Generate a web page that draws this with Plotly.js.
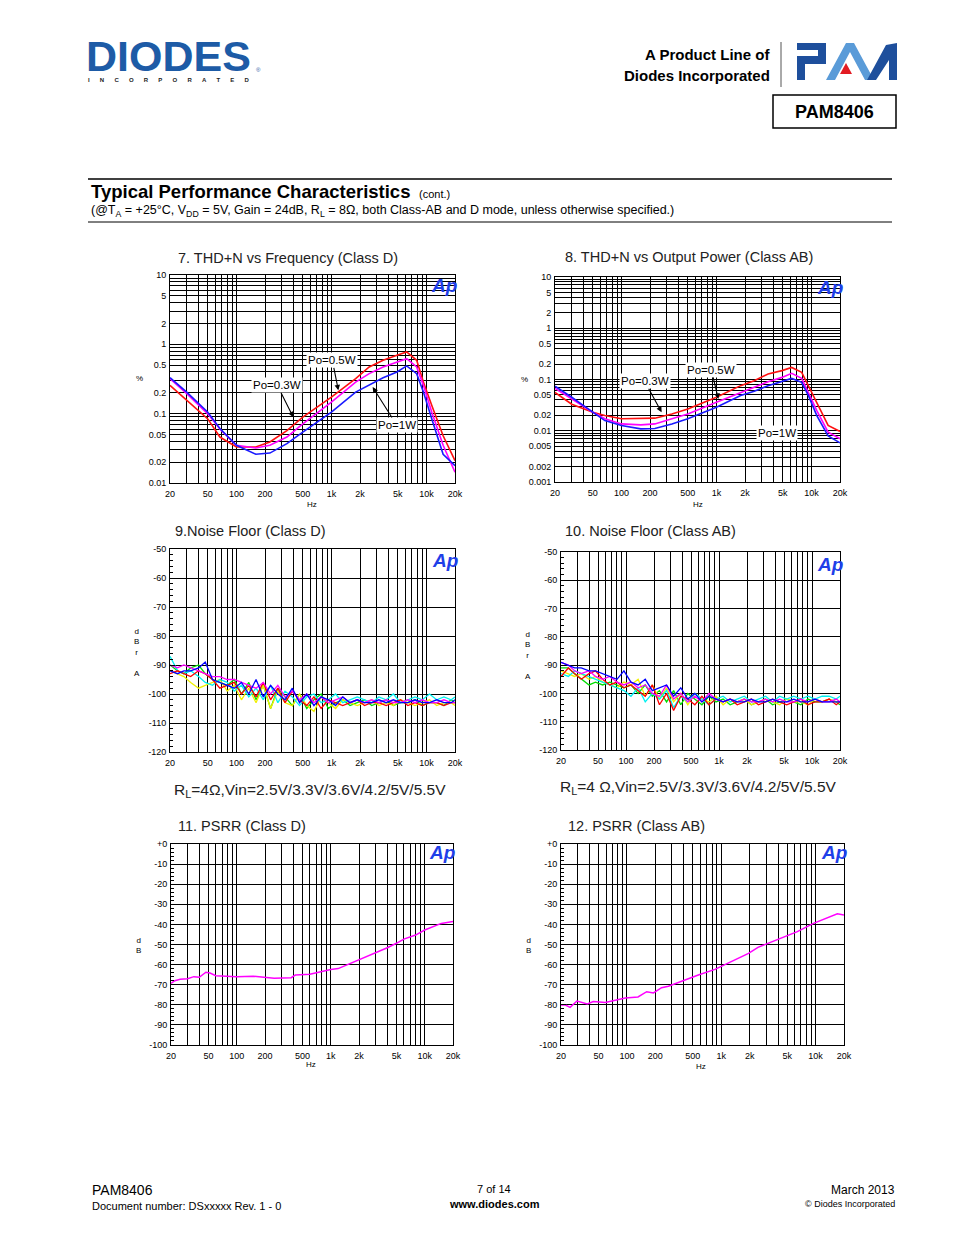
<!DOCTYPE html>
<html><head><meta charset="utf-8">
<script src="https://cdn.plot.ly/plotly-3.0.1.min.js"></script>
<style>html,body{margin:0;padding:0;background:#fff}#chart{width:954px;height:1235px}</style>
</head><body><div id="chart"></div>
<script>
// ---------- data ----------
const freqGrid = [20,30,40,50,60,70,80,90,100,200,300,400,500,600,700,800,900,1000,2000,3000,4000,5000,6000,7000,8000,9000,10000,20000];
const freqLabels = {"20":"20","50":"50","100":"100","200":"200","500":"500","1000":"1k","2000":"2k","5000":"5k","10000":"10k","20000":"20k"};
const thdGrid7 = [0.01,0.02,0.03,0.04,0.05,0.06,0.07,0.08,0.09,0.1,0.2,0.3,0.4,0.5,0.6,0.7,0.8,0.9,1,2,3,4,5,6,7,8,9,10];
const thdGrid8 = [0.001,0.002,0.003,0.004,0.005,0.006,0.007,0.008,0.009].concat(thdGrid7);
const thdLabels = {"0.001":"0.001","0.002":"0.002","0.005":"0.005","0.01":"0.01","0.02":"0.02","0.05":"0.05","0.1":"0.1","0.2":"0.2","0.5":"0.5","1":"1","2":"2","5":"5","10":"10"};

const thdFreq = [20,30,50,67,100,160,225,340,500,1000,1800,2500,3500,4900,6200,7900,9300,11400,15000,20000];
// Chart 7: THD+N vs Frequency (Class D), %
const thdD_red  = [0.256,0.155,0.084,0.046,0.033,0.033,0.039,0.057,0.089,0.173,0.320,0.471,0.589,0.695,0.777,0.589,0.286,0.131,0.048,0.021];
const thdD_mag  = [0.320,0.194,0.0995,0.060,0.035,0.032,0.035,0.046,0.071,0.147,0.286,0.378,0.471,0.557,0.622,0.471,0.256,0.105,0.035,0.0143];
const thdD_blue = [0.331,0.205,0.105,0.061,0.035,0.026,0.027,0.037,0.054,0.105,0.205,0.256,0.330,0.399,0.488,0.378,0.205,0.084,0.026,0.0178];
// Chart 8: THD+N (Class AB), %
const thdAB_red  = [0.056,0.033,0.023,0.0198,0.0171,0.0173,0.0176,0.0213,0.0267,0.045,0.0759,0.0949,0.128,0.149,0.172,0.138,0.0759,0.0334,0.0127,0.0097];
const thdAB_mag  = [0.067,0.042,0.023,0.0171,0.0136,0.0130,0.0136,0.0171,0.0213,0.036,0.0562,0.0704,0.0908,0.110,0.132,0.105,0.0562,0.0248,0.0094,0.0070];
const thdAB_blue = [0.074,0.045,0.023,0.0158,0.0127,0.0109,0.0111,0.0136,0.0171,0.0288,0.0485,0.0589,0.0759,0.0908,0.105,0.0881,0.0485,0.0198,0.0079,0.0058];

// Noise floor (dBrA)
const nfFreq = [20,24,28,33,40,47,56,67,80,95,113,135,161,192,229,273,325,388,462,550,655,780,929,1107,1318,1570,1871,2229,2655,3163,3769,4490,5349,6372,7591,9044,10774,12836,15291,18217,20000];
const nfD_green  = [-90,-92,-93,-91,-90,-93,-95,-96,-97,-95,-100,-96,-102,-97,-105,-98,-101,-104,-100,-105,-102,-100,-105,-103,-102,-104,-103,-102,-104,-103,-102,-104,-103,-103,-102,-104,-103,-103,-104,-102,-103];
const nfD_yellow = [-92,-93,-94,-96,-98,-97,-96,-95,-99,-97,-102,-98,-103,-97,-105,-99,-103,-104,-100,-104,-106,-101,-103,-105,-102,-103,-104,-103,-102,-104,-103,-104,-102,-103,-104,-103,-102,-104,-103,-103,-104];
const nfD_cyan   = [-87,-92,-93,-92,-94,-96,-97,-95,-96,-99,-97,-101,-98,-102,-97,-103,-99,-101,-104,-101,-100,-103,-102,-100,-103,-102,-101,-102,-103,-101,-102,-100,-103,-102,-101,-102,-100,-102,-101,-102,-101];
const nfD_red    = [-93,-92,-93,-94,-92,-93,-95,-98,-97,-96,-100,-97,-101,-96,-102,-98,-103,-99,-102,-104,-101,-105,-102,-103,-104,-103,-102,-104,-103,-103,-104,-103,-102,-104,-103,-104,-103,-103,-104,-103,-103];
const nfD_mag    = [-90,-91,-90,-91,-92,-93,-94,-94,-95,-95,-96,-97,-98,-96,-100,-97,-101,-99,-102,-100,-103,-101,-103,-102,-101,-103,-102,-103,-102,-103,-102,-103,-103,-102,-103,-102,-103,-103,-102,-103,-103];
const nfD_blue   = [-92,-93,-92,-92,-91,-89,-95,-96,-97,-98,-96,-100,-95,-101,-97,-100,-102,-98,-103,-100,-104,-101,-102,-104,-101,-103,-102,-103,-103,-102,-103,-102,-103,-103,-102,-103,-103,-102,-103,-103,-102];

const nfAB_green  = [-91,-91,-93,-95,-97,-96,-97,-96,-97,-98,-97,-100,-97,-101,-99,-103,-99,-104,-100,-102,-104,-101,-103,-102,-104,-103,-102,-104,-103,-102,-104,-103,-102,-103,-104,-102,-103,-103,-102,-103,-104];
const nfAB_yellow = [-92,-93,-94,-93,-95,-94,-96,-97,-98,-96,-97,-95,-101,-97,-102,-98,-103,-100,-104,-100,-102,-103,-101,-104,-102,-103,-102,-104,-103,-102,-103,-104,-102,-103,-103,-104,-102,-103,-102,-103,-103];
const nfAB_cyan   = [-93,-94,-92,-93,-94,-95,-96,-97,-98,-99,-101,-98,-103,-100,-102,-99,-105,-101,-103,-100,-102,-104,-102,-101,-103,-102,-101,-103,-102,-101,-103,-101,-102,-101,-102,-101,-102,-101,-101,-102,-101];
const nfAB_red    = [-94,-91,-93,-95,-93,-92,-95,-97,-96,-98,-97,-99,-101,-97,-104,-100,-106,-101,-102,-104,-101,-104,-102,-103,-102,-104,-103,-102,-104,-103,-102,-103,-104,-103,-102,-104,-103,-103,-102,-104,-103];
const nfAB_mag    = [-89,-90,-92,-93,-92,-94,-95,-94,-96,-97,-96,-98,-97,-100,-101,-97,-102,-100,-103,-101,-103,-100,-102,-103,-102,-103,-102,-103,-103,-102,-103,-102,-103,-103,-102,-103,-102,-103,-103,-102,-103];
const nfAB_blue   = [-89,-90,-91,-91,-92,-92,-93,-94,-95,-92,-96,-97,-95,-99,-98,-97,-101,-98,-102,-100,-103,-101,-102,-103,-102,-103,-103,-102,-103,-103,-102,-103,-103,-102,-103,-103,-102,-103,-103,-103,-103];

// PSRR (dB)
const psrrD_freq = [20,22,25,30,35,40,47,52,60,80,100,150,250,380,420,600,800,1000,1200,2000,3000,4000,5000,6000,8000,10000,15000,20000];
const psrrD_val  = [-69.3,-68,-67.3,-67,-66,-66.3,-63.8,-64.2,-65.5,-65.8,-66,-65.8,-66.8,-66.5,-65.2,-64.8,-63.5,-62.4,-62,-57.7,-53.9,-51.6,-49.4,-47.3,-45.3,-42.8,-39.5,-38.6];
const psrrAB_freq = [20,22,25,29.5,38,44,59,75,96,131,162,191,233,275,380,571,857,1281,1945,2450,3130,4285,6400,9500,14000,17000,20000];
const psrrAB_val  = [-80.1,-80,-81.3,-78.1,-79.6,-78.4,-78.8,-77.6,-76.6,-76.1,-73.5,-74.1,-71.5,-70.8,-68.2,-65.2,-62.4,-58.5,-54.4,-51.4,-49.4,-46.9,-43.6,-39.5,-36.2,-34.7,-35.3];
const psrrTicks = [-100,-90,-80,-70,-60,-50,-40,-30,-20,-10,0];
const psrrTickText = ["-100","-90","-80","-70","-60","-50","-40","-30","-20","-10","+0"];
const nfTicks = [-120,-110,-100,-90,-80,-70,-60,-50];

// ---------- helpers ----------
const W = 954, H = 1235;
const P = x => x / W, Q = y => 1 - y / H;
const TF = {family:'Liberation Sans Narrow, Liberation Sans, Arial, sans-serif', size:9, color:'#000'};
const base = {showgrid:true, gridcolor:'#000', gridwidth:1, showline:true, linecolor:'#000', linewidth:1, mirror:true, zeroline:false, fixedrange:true, tickfont:TF, tickangle:0};
function xAx(l, r, anchor){
  return Object.assign({}, base, {domain:[P(l),P(r)], anchor, type:'log', range:[Math.log10(20), Math.log10(20000)],
    tickmode:'array', tickvals:freqGrid, ticktext:freqGrid.map(v => freqLabels[String(v)] || ''), ticks:'', ticklabelstandoff:2});
}
function yThd(t, b, anchor, grid, lo){
  return Object.assign({}, base, {domain:[Q(b),Q(t)], anchor, type:'log', range:[Math.log10(lo), 1],
    tickmode:'array', tickvals:grid, ticktext:grid.map(v => thdLabels[String(v)] || ''), ticks:'', ticklabelstandoff:1});
}
function yLin(t, b, anchor, lo, hi, tv, tt){
  return Object.assign({}, base, {domain:[Q(b),Q(t)], anchor, range:[lo,hi], tickmode:'array', tickvals:tv, ticktext:tt,
    ticks:'inside', ticklen:5, tickcolor:'#000', ticklabelstandoff:1,
    minor:{dtick:2, ticks:'inside', ticklen:3, tickcolor:'#000', showgrid:false}});
}
function line(x, y, xa, ya, color, w){
  return {x, y, xaxis:xa, yaxis:ya, type:'scatter', mode:'lines', line:{color, width:w||1.6}, hoverinfo:'skip'};
}

const traces = [
  line(thdFreq, thdD_red, 'x', 'y', '#ff1010'),
  line(thdFreq, thdD_mag, 'x', 'y', '#ff00ff'),
  line(thdFreq, thdD_blue, 'x', 'y', '#1a1aff'),
  line(thdFreq, thdAB_red, 'x2', 'y2', '#ff1010'),
  line(thdFreq, thdAB_mag, 'x2', 'y2', '#ff00ff'),
  line(thdFreq, thdAB_blue, 'x2', 'y2', '#1a1aff'),
];
const nfCols = ['#00dd00','#f0f000','#00f0f0','#ff0000','#ff00ff','#0000ff'];
[nfD_green,nfD_yellow,nfD_cyan,nfD_red,nfD_mag,nfD_blue].forEach((s,i) => traces.push(line(nfFreq, s, 'x3', 'y3', nfCols[i], 1.3)));
[nfAB_green,nfAB_yellow,nfAB_cyan,nfAB_red,nfAB_mag,nfAB_blue].forEach((s,i) => traces.push(line(nfFreq, s, 'x4', 'y4', nfCols[i], 1.3)));
traces.push(line(psrrD_freq, psrrD_val, 'x5', 'y5', '#ff00ff', 1.5));
traces.push(line(psrrAB_freq, psrrAB_val, 'x6', 'y6', '#ff00ff', 1.5));

// ---------- annotations ----------
const ann = [];
function txt(x, y, text, size, opts){
  ann.push(Object.assign({xref:'paper', yref:'paper', x:P(x), y:Q(y), text, showarrow:false,
    font:{family:'Liberation Sans, Arial, sans-serif', size, color:'#000'}, xanchor:'center', yanchor:'middle'}, opts||{}));
}
// header: DIODES logo
txt(84, 56, '<b>DIODES</b>', 43, {xanchor:'left', font:{family:'Liberation Sans, Arial', size:43, color:'#1d5ba6'}});
txt(258, 70, '®', 6, {font:{family:'Liberation Sans', size:6, color:'#1d5ba6'}});
const GAP = '\u2003\u2002\u2009';
txt(86, 80, '<b>' + 'INCORPORATED'.split('').join(GAP) + '</b>', 6, {xanchor:'left', font:{family:'Liberation Sans', size:6, color:'#222'}});
txt(772, 55, '<b>A Product Line of</b>', 15, {xanchor:'right'});
txt(772, 75, '<b>Diodes Incorporated</b>', 15, {xanchor:'right'});
txt(834, 112, '<b>PAM8406</b>', 18);
txt(89, 192, '<b>Typical Performance Characteristics</b>', 18.5, {xanchor:'left'});
txt(417, 194, '(cont.)', 11, {xanchor:'left'});
txt(89, 211, '(@T<sub>A</sub> = +25°C, V<sub>DD</sub> = 5V, Gain = 24dB, R<sub>L</sub> = 8Ω, both Class-AB and D mode, unless otherwise specified.)', 12.5, {xanchor:'left'});
// footer
txt(90, 1190, 'PAM8406', 14, {xanchor:'left'});
txt(90, 1206, 'Document number: DSxxxxx Rev. 1 - 0', 11, {xanchor:'left'});
txt(494, 1189, '7 of 14', 11);
txt(494, 1204, '<b>www.diodes.com</b>', 11);
txt(897, 1190, 'March 2013', 12, {xanchor:'right'});
txt(897, 1204, '© Diodes Incorporated', 9, {xanchor:'right'});
// chart titles
const TTL = {family:'Liberation Sans, Arial', size:14.5, color:'#222'};
txt(288, 258, '7. THD+N vs Frequency (Class D)', 14.5, {font:TTL});
txt(689, 257, '8. THD+N vs Output Power (Class AB)', 14.5, {font:TTL});
txt(251, 531, '9.Noise Floor (Class D)', 14.5, {font:TTL});
txt(650, 531, '10. Noise Floor (Class AB)', 14.5, {font:TTL});
txt(242, 826, '11. PSRR (Class D)', 14.5, {font:TTL});
txt(636, 826, '12. PSRR (Class AB)', 14.5, {font:TTL});
const CAP = {family:'Liberation Sans, Arial', size:15.5, color:'#222'};
txt(310, 790, 'R<sub>L</sub>=4Ω,Vin=2.5V/3.3V/3.6V/4.2/5V/5.5V', 15.5, {font:CAP});
txt(698, 787, 'R<sub>L</sub>=4 Ω,Vin=2.5V/3.3V/3.6V/4.2/5V/5.5V', 15.5, {font:CAP});
// axis labels
const SM = {family:'Liberation Sans, Arial', size:8, color:'#000'};
txt(139, 378, '%', 8, {font:SM});
txt(524, 379, '%', 8, {font:SM});
txt(137, 652, 'd<br>B<br>r<br> <br>A', 8, {font:SM});
txt(528, 655, 'd<br>B<br>r<br> <br>A', 8, {font:SM});
txt(138, 945, 'd<br>B', 8, {font:SM});
txt(528, 945, 'd<br>B', 8, {font:SM});
txt(312, 504, 'Hz', 8, {font:SM});
txt(698, 504, 'Hz', 8, {font:SM});
txt(311, 1064, 'Hz', 8, {font:SM});
txt(701, 1066, 'Hz', 8, {font:SM});
// Ap logos
const AP = {family:'Liberation Sans, Arial', size:19, color:'#1f3fe8'};
[[444,285],[830,287],[445,560],[830,564],[442,852],[834,852]].forEach(p => txt(p[0], p[1], '<b><i>Ap</i></b>', 19, {font:AP}));
// Po labels with arrows
const LBL = {family:'Liberation Sans, Arial', size:11.5, color:'#000'};
function po(xa, ya, f, v, ax, ay, text){
  ann.push({xref:xa, yref:ya, x:Math.log10(f), y:Math.log10(v), text, showarrow:true, arrowhead:2, arrowsize:1, arrowwidth:1.1,
    arrowcolor:'#000', ax, ay, bgcolor:'#fff', borderpad:1, font:LBL});
}
po('x','y', 1183, 0.217, -6, -30, 'Po=0.5W');
po('x','y', 397, 0.089, -16, -32, 'Po=0.3W');
po('x','y', 2718, 0.242, 24, 38, 'Po=1W');
po('x2','y2', 265, 0.023, -17, -31, 'Po=0.3W');
po('x2','y2', 1048, 0.0418, -7, -29, 'Po=0.5W');
po('x2','y2', 2448, 0.0485, 24, 37, 'Po=1W');

// ---------- shapes ----------
function poly(pts, fill){
  return {type:'path', xref:'paper', yref:'paper', fillcolor:fill, line:{width:0},
    path:'M ' + pts.map(p => P(p[0]) + ' ' + Q(p[1])).join(' L ') + ' Z'};
}
const DK = '#1e4f9c', LT = '#5a9bd8';
const shapes = [
  {type:'line', xref:'paper', yref:'paper', x0:P(88), x1:P(892), y0:Q(179), y1:Q(179), line:{color:'#000', width:1.6}},
  {type:'line', xref:'paper', yref:'paper', x0:P(88), x1:P(892), y0:Q(222), y1:Q(222), line:{color:'#000', width:1}},
  {type:'rect', xref:'paper', yref:'paper', x0:P(773), x1:P(896), y0:Q(128), y1:Q(95), line:{color:'#000', width:1.5}},
  {type:'line', xref:'paper', yref:'paper', x0:P(781), x1:P(781), y0:Q(42), y1:Q(87), line:{color:'#555', width:1}},
  // PAM logo: P
  poly([[797,43],[826,43],[826,64],[805,64],[805,80],[797,80],[797,56],[818,56],[818,50],[797,50]], DK),
  // A (chevron)
  poly([[826,80],[846,43],[854,43],[874,80],[865,80],[850,52],[835,80]], LT),
  // red triangle
  poly([[840,74],[852,74],[846,63]], '#e21b23'),
  // M
  poly([[867,80],[886,45],[897,43],[897,80],[889,80],[889,60],[876,80]], DK),
];

const layout = {
  width:W, height:H, margin:{l:0,r:0,t:0,b:0}, paper_bgcolor:'#fff', plot_bgcolor:'#fff', showlegend:false,
  xaxis:  xAx(170, 455, 'y'),
  yaxis:  yThd(275, 483, 'x', thdGrid7, 0.01),
  xaxis2: xAx(555, 840, 'y2'),
  yaxis2: yThd(277, 482, 'x2', thdGrid8, 0.001),
  xaxis3: xAx(170, 455, 'y3'),
  yaxis3: yLin(549, 752, 'x3', -120, -50, nfTicks, nfTicks.map(String)),
  xaxis4: xAx(561, 840, 'y4'),
  yaxis4: yLin(552, 750, 'x4', -120, -50, nfTicks, nfTicks.map(String)),
  xaxis5: xAx(171, 453, 'y5'),
  yaxis5: yLin(844, 1045, 'x5', -100, 0, psrrTicks, psrrTickText),
  xaxis6: xAx(561, 844, 'y6'),
  yaxis6: yLin(844, 1045, 'x6', -100, 0, psrrTicks, psrrTickText),
  annotations: ann, shapes
};
Plotly.newPlot('chart', traces, layout, {staticPlot:true, displayModeBar:false});
</script></body></html>
